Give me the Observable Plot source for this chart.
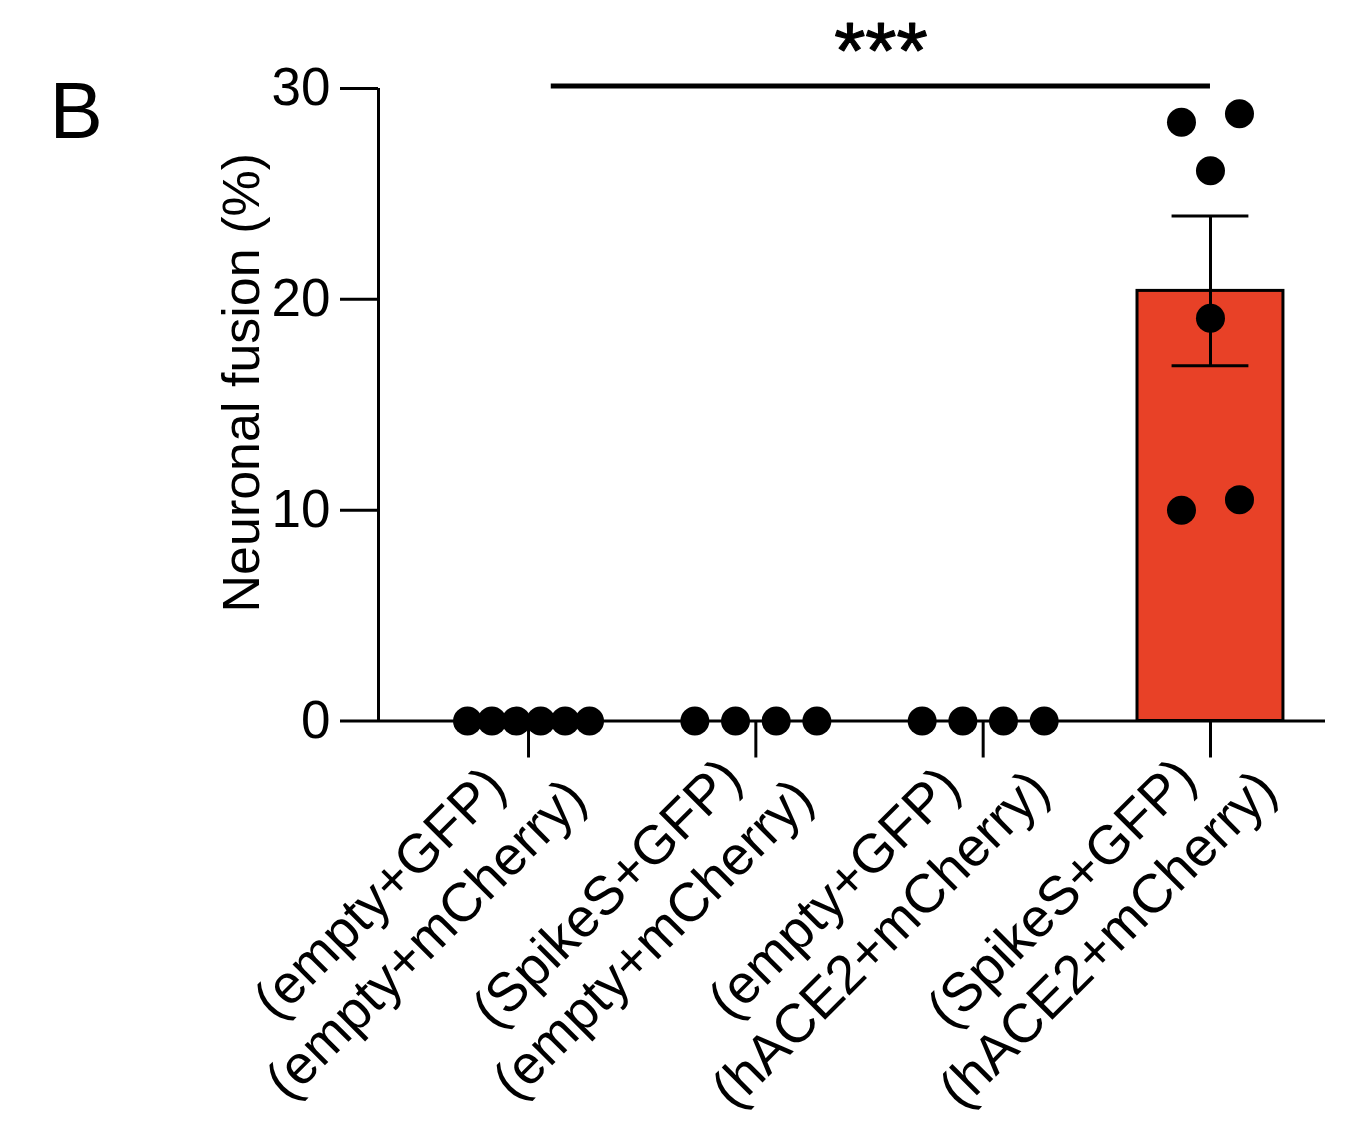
<!DOCTYPE html>
<html><head><meta charset="utf-8">
<script src="https://cdn.jsdelivr.net/npm/d3@7"></script>
<script src="https://cdn.jsdelivr.net/npm/@observablehq/plot@0.6"></script>
<style>html,body{margin:0;padding:0;background:#fff}</style>
</head><body><div id="chart"></div>
<script>
// ---- data ----
const groups = [
  "(empty+GFP)\n(empty+mCherry)",
  "(SpikeS+GFP)\n(empty+mCherry)",
  "(empty+GFP)\n(hACE2+mCherry)",
  "(SpikeS+GFP)\n(hACE2+mCherry)"
];
const values1 = [0, 0, 0, 0, 0, 0];
const values2 = [0, 0, 0, 0];
const values3 = [0, 0, 0, 0];
const values4 = [28.4, 28.8, 26.1, 19.1, 10.0, 10.5];
const means = [0, 0, 0, 20.4];
const sems = [0, 0, 0, 3.55];
const yTicks = [0, 10, 20, 30];
const significance = [{x1: 0.1, x2: 3.0, level: 30.12, label: "***"}];
const panelLabel = "B";
const yLabel = "Neuronal fusion (%)";

// ---- layout ----
const W = 1356, H = 1138, mL = 378, mR = 31, mT = 88, mB = 417.5;
const xDomain = [-0.66, 3.506], yDomain = [0, 30];
const pxX = (W - mL - mR) / (xDomain[1] - xDomain[0]);
const pxY = (H - mT - mB) / (yDomain[1] - yDomain[0]);
const R = 14.5, maxSpan = 122, maxGap = 58;
const FONT = "'Liberation Sans', Arial, Helvetica, sans-serif";
const FS = 53;

// scatter layout: spread points with (nearly) equal values horizontally
const groupValues = [values1, values2, values3, values4];
const points = [];
groupValues.forEach((vals, g) => {
  const sorted = vals.slice().sort((a, b) => a - b);
  const clusters = []; let cur = [];
  sorted.forEach(v => {
    if (cur.length && (v - cur[cur.length - 1]) * pxY >= 2 * R) { clusters.push(cur); cur = []; }
    cur.push(v);
  });
  if (cur.length) clusters.push(cur);
  clusters.forEach(c => {
    const n = c.length;
    const gap = n > 1 ? Math.min(maxGap, maxSpan / (n - 1)) : 0;
    c.forEach((v, k) => points.push({g, v, xo: g + (k - (n - 1) / 2) * gap / pxX}));
  });
});

const bars = means.map((m, i) => ({i, m, lo: m - sems[i], hi: m + sems[i]})).filter(d => d.m > 0);
const caps = bars.flatMap(d => [{i: d.i, y: d.lo}, {i: d.i, y: d.hi}]);
const labels = groups.map((t, i) => ({i, t}));

const chart = Plot.plot({
  width: W, height: H,
  marginLeft: mL, marginRight: mR, marginTop: mT, marginBottom: mB,
  style: {fontFamily: FONT, fontSize: FS + "px", background: "#fff", color: "#000", overflow: "visible"},
  x: {domain: xDomain},
  y: {domain: yDomain},
  marks: [
    Plot.rectY(bars, {x1: d => d.i - 0.321, x2: d => d.i + 0.321, y1: 0, y2: "m", fill: "#e84127", stroke: "#000", strokeWidth: 3}),
    Plot.ruleX([xDomain[0]], {y1: yDomain[0], y2: yDomain[1], stroke: "#000", strokeWidth: 3}),
    Plot.ruleY([0], {stroke: "#000", strokeWidth: 3}),
    Plot.axisY({ticks: yTicks, tickSize: 38, tickPadding: 10, fontSize: FS, strokeWidth: 3, label: null}),
    Plot.axisX({ticks: [0, 1, 2, 3], tickSize: 37, strokeWidth: 3, tickFormat: () => "", label: null}),
    Plot.ruleX(bars, {x: "i", y1: "lo", y2: "hi", stroke: "#000", strokeWidth: 3}),
    Plot.ruleY(caps, {y: "y", x1: d => d.i - 0.169, x2: d => d.i + 0.169, stroke: "#000", strokeWidth: 3}),
    Plot.dot(points, {x: "xo", y: "v", r: R, fill: "#000"}),
    Plot.text(labels, {x: "i", frameAnchor: "bottom", text: "t", rotate: -45, textAnchor: "middle", lineAnchor: "middle",
      lineHeight: 1.2, dx: -128, dy: 193, fontSize: 54.5, fill: "#000"}),
    Plot.ruleY(significance, {y: "level", x1: "x1", x2: "x2", stroke: "#000", strokeWidth: 5}),
    Plot.text(significance, {x: d => (d.x1 + d.x2) / 2, y: "level", text: "label", lineAnchor: "bottom", dy: -8,
      fontSize: 80, fontWeight: "normal", stroke: "#000", strokeWidth: 1.2, fill: "#000"}),
    Plot.text([panelLabel], {frameAnchor: "top-left", textAnchor: "start", lineAnchor: "bottom", dx: -329, dy: 49,
      fontSize: 80, fill: "#000"}),
    Plot.text([yLabel], {frameAnchor: "left", rotate: -90, textAnchor: "middle", lineAnchor: "bottom", dx: -120, dy: -22,
      fontSize: 52, fill: "#000"})
  ]
});
document.getElementById("chart").appendChild(chart);
</script>
</body></html>
